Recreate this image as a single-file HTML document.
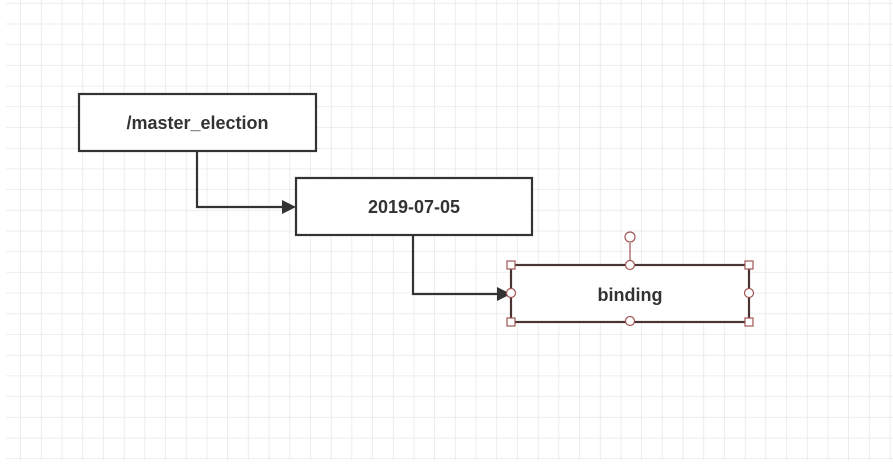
<!DOCTYPE html>
<html><head><meta charset="utf-8"><style>
html,body{margin:0;padding:0;background:#fff;}
svg{display:block}
text{font-family:"Liberation Sans",sans-serif;font-weight:bold;font-size:18px;fill:#333}
</style></head><body>
<svg width="893" height="465" viewBox="0 0 893 465">
<defs>
<pattern id="g" x="0.3" y="3.6" width="20.7" height="20.7" patternUnits="userSpaceOnUse">
<path d="M20.7 0V20.7M0 20.7H20.7" stroke="#e3e3e3" stroke-width="1.3" fill="none"/>
</pattern>
</defs>
<rect x="6" y="0" width="887" height="460" fill="url(#g)"/>
<g stroke="#333" stroke-width="2.2" fill="none">
<path d="M197 151V207H284"/>
<path d="M413 235V294H499"/>
</g>
<path d="M282 200L296 207L282 214Z" fill="#333"/>
<path d="M497 287L511 294L497 301Z" fill="#333"/>
<rect x="79" y="94" width="237" height="57" fill="#fff" stroke="#333" stroke-width="2.2"/>
<text x="197.5" y="129" text-anchor="middle">/master_election</text>
<rect x="296" y="178" width="236" height="57" fill="#fff" stroke="#333" stroke-width="2.2"/>
<text x="414" y="213" text-anchor="middle">2019-07-05</text>
<rect x="511" y="265" width="238" height="57" fill="#fff" stroke="#4a3333" stroke-width="2.2"/>
<text x="630" y="301" text-anchor="middle">binding</text>
<g stroke="#a05555" stroke-width="1.2" fill="#fff">
<line x1="630" y1="243" x2="630" y2="265"/>
<circle cx="630" cy="237" r="5"/>
<circle cx="630" cy="265" r="4.5"/>
<circle cx="630" cy="321" r="4.5"/>
<circle cx="511" cy="293" r="4.5"/>
<circle cx="749" cy="293" r="4.5"/>
<rect x="507" y="261" width="8" height="8"/>
<rect x="745" y="261" width="8" height="8"/>
<rect x="507" y="318" width="8" height="8"/>
<rect x="745" y="318" width="8" height="8"/>
</g>
</svg>
</body></html>
